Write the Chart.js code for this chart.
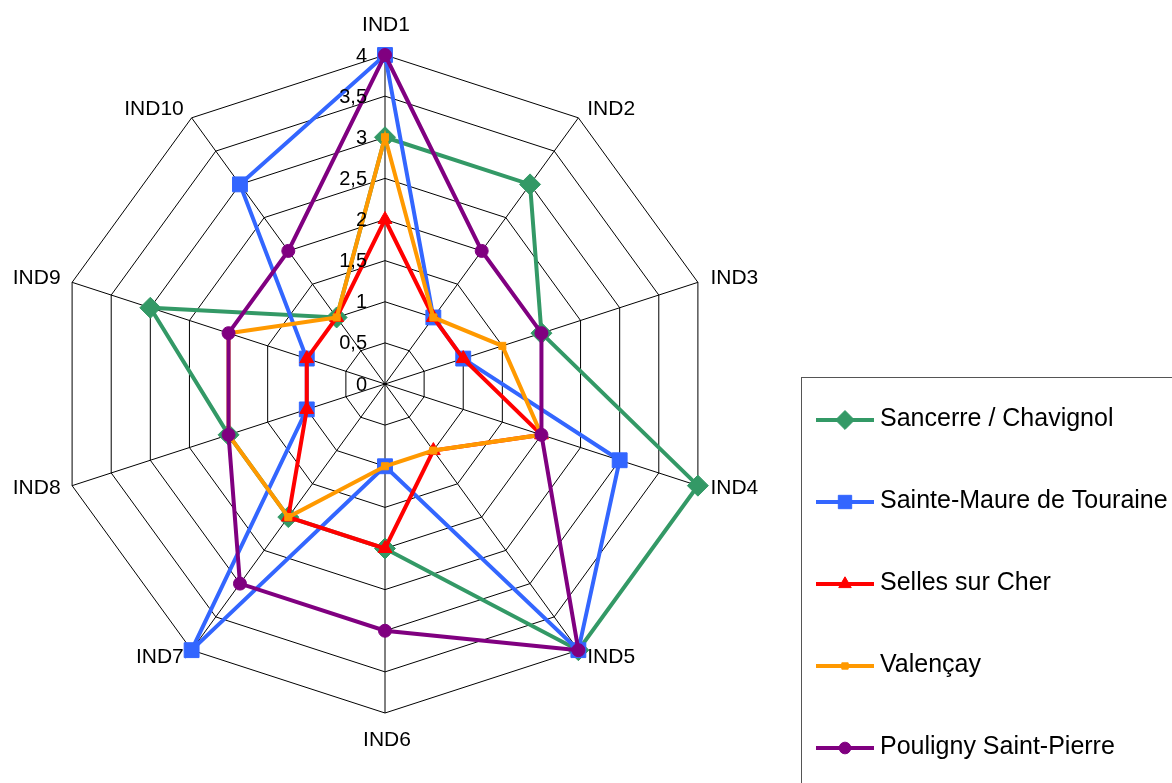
<!DOCTYPE html>
<html><head><meta charset="utf-8">
<script src="https://cdn.jsdelivr.net/npm/chart.js@4/dist/chart.umd.min.js"></script>
<style>html,body{margin:0;padding:0;background:#fff;overflow:hidden}#wrap{width:1172px;height:783px;position:relative}</style>
</head><body><div id="wrap"><canvas id="c" width="1172" height="783"></canvas></div>
<script>
// ---- data ----
const categories = ['IND1','IND2','IND3','IND4','IND5','IND6','IND7','IND8','IND9','IND10'];
const seriesNames = ['Sancerre / Chavignol','Sainte-Maure de Touraine','Selles sur Cher','Valençay','Pouligny Saint-Pierre'];
const sancerre    = [3, 3, 2,   4, 4, 2, 2, 2, 3, 1];
const sainteMaure = [4, 1, 1,   3, 4, 1, 4, 1, 1, 3];
const selles      = [2, 1, 1,   2, 1, 2, 2, 1, 1, 1];
const valencay    = [3, 1, 1.5, 2, 1, 1, 2, 2, 2, 1];
const pouligny    = [4, 2, 2,   2, 4, 3, 3, 2, 2, 2];
const tickValues  = [0, 0.5, 1, 1.5, 2, 2.5, 3, 3.5, 4];
const tickLabels  = ['0','0,5','1','1,5','2','2,5','3','3,5','4'];

// ---- styles ----
const colors = ['#339966','#3366FF','#FF0000','#FF9900','#800080'];
const pointStyles = ['rectRot','rect','triangle','rect','circle'];
const pointRadii = [10.5, 10.5, 8, 5, 6.5];
const FONT = '"Liberation Sans", Arial, sans-serif';

const seriesValues = [sancerre, sainteMaure, selles, valencay, pouligny];
const datasets = seriesValues.map((vals, i) => ({
  label: seriesNames[i],
  data: vals,
  borderColor: colors[i],
  backgroundColor: colors[i],
  pointBackgroundColor: colors[i],
  pointBorderColor: colors[i],
  pointStyle: pointStyles[i],
  pointRadius: pointRadii[i],
  pointBorderWidth: 1,
  borderWidth: 4,
  fill: false,
  tension: 0,
  order: seriesValues.length - i
}));

function drawMarker(ctx, style, r, x, y, color) {
  ctx.save();
  ctx.fillStyle = color; ctx.strokeStyle = color; ctx.lineWidth = 1;
  ctx.beginPath();
  if (style === 'rectRot') {
    ctx.moveTo(x, y - r); ctx.lineTo(x + r, y); ctx.lineTo(x, y + r); ctx.lineTo(x - r, y); ctx.closePath();
  } else if (style === 'rect') {
    const s = Math.SQRT1_2 * r; ctx.rect(x - s, y - s, 2 * s, 2 * s);
  } else if (style === 'triangle') {
    let a = 0;
    ctx.moveTo(x + Math.sin(a) * r, y - Math.cos(a) * r);
    a += 2 * Math.PI / 3; ctx.lineTo(x + Math.sin(a) * r, y - Math.cos(a) * r);
    a += 2 * Math.PI / 3; ctx.lineTo(x + Math.sin(a) * r, y - Math.cos(a) * r);
    ctx.closePath();
  } else {
    ctx.arc(x, y, r, 0, Math.PI * 2);
  }
  ctx.fill(); ctx.stroke();
  ctx.restore();
}

const labelsPlugin = {
  id: 'customLabels',
  afterDatasetsDraw(chart) {
    const s = chart.scales.r, ctx = chart.ctx;
    ctx.save();
    ctx.fillStyle = '#000';
    ctx.font = '20px ' + FONT;
    ctx.textAlign = 'right';
    ctx.textBaseline = 'middle';
    tickValues.forEach((v, i) => {
      const d = s.getDistanceFromCenterForValue(v);
      ctx.fillText(tickLabels[i], s.xCenter - 18, s.yCenter - d + 1);
    });
    ctx.restore();
  },
  afterDraw(chart) {
    const s = chart.scales.r, ctx = chart.ctx;
    const R = s.drawingArea;
    ctx.save();
    ctx.fillStyle = '#000';
    ctx.font = '21px ' + FONT;
    ctx.textBaseline = 'middle';
    categories.forEach((lab, i) => {
      const p = s.getPointPosition(i, R);
      const n = categories.length;
      if (i === 0) {
        ctx.textAlign = 'center'; ctx.fillText(lab, p.x + 1, p.y - 30);
      } else if (i === n / 2) {
        ctx.textAlign = 'center'; ctx.fillText(lab, p.x + 2, p.y + 27);
      } else {
        const q = s.getPointPosition(i, R + 10);
        if (i < n / 2) { ctx.textAlign = 'left'; ctx.fillText(lab, q.x + 3, q.y - 1); }
        else { ctx.textAlign = 'right'; ctx.fillText(lab, q.x - 2, q.y - 1); }
      }
    });
    // legend
    ctx.strokeStyle = '#555'; ctx.lineWidth = 1;
    ctx.strokeRect(801.5, 377.5, 420, 450);
    ctx.font = '25px ' + FONT;
    ctx.textAlign = 'left'; ctx.textBaseline = 'alphabetic';
    seriesNames.forEach((name, i) => {
      const y = 420 + i * 82;
      ctx.strokeStyle = colors[i]; ctx.lineWidth = 4;
      ctx.beginPath(); ctx.moveTo(816, y); ctx.lineTo(874, y); ctx.stroke();
      drawMarker(ctx, pointStyles[i], pointRadii[i] * 0.9, 845, y, colors[i]);
      ctx.fillStyle = '#000';
      ctx.fillText(name, 880, y + 6);
    });
    ctx.restore();
  }
};

new Chart(document.getElementById('c'), {
  type: 'radar',
  data: { labels: categories, datasets },
  options: {
    responsive: false,
    animation: false,
    devicePixelRatio: 1,
    layout: { padding: { left: 56, right: 458, top: 55, bottom: 70 } },
    plugins: { legend: { display: false }, tooltip: { enabled: false } },
    scales: {
      r: {
        min: 0, max: 4,
        ticks: { display: false, stepSize: 0.5 },
        grid: { color: '#000', lineWidth: 1 },
        angleLines: { color: '#000', lineWidth: 1 },
        pointLabels: { display: false }
      }
    }
  },
  plugins: [labelsPlugin]
});
</script>
</body></html>
